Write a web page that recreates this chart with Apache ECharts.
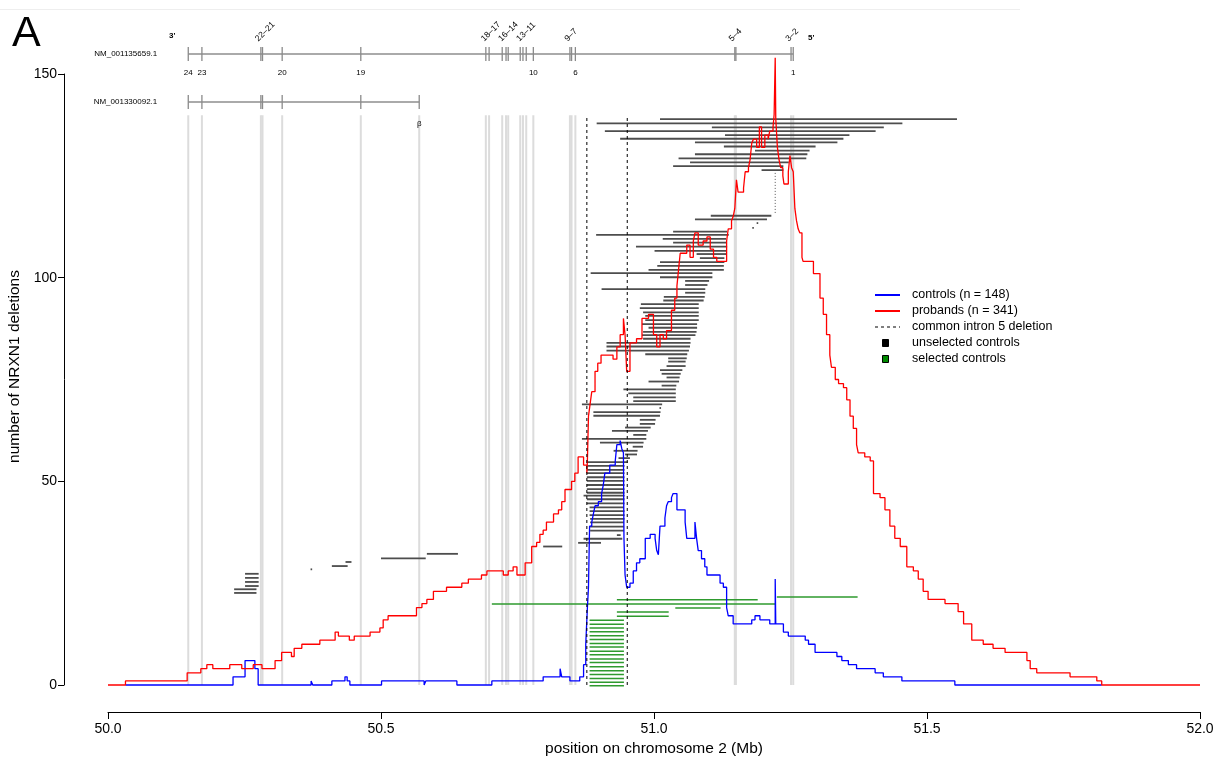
<!DOCTYPE html>
<html>
<head>
<meta charset="utf-8">
<script src="https://cdn.jsdelivr.net/npm/echarts@6/dist/echarts.min.js"></script>
<style>
html,body{margin:0;padding:0;background:#fff}
#main{width:1230px;height:762px}
</style>
</head>
<body>
<div id="main"></div>
<script>
// NRXN1 deletions, position in Mb on chr2
var FONT = '"Liberation Sans", Arial, sans-serif';

// gene track (NM_001135659.1 and NM_001330092.1)
var exonPos = [50.147, 50.172, 50.280, 50.283, 50.319, 50.463, 50.692, 50.698, 50.722, 50.729, 50.733,
    50.755, 50.760, 50.766, 50.779, 50.846, 50.849, 50.856, 51.148, 51.150, 51.251, 51.255];
var tx2Exons = [50.147, 50.172, 50.280, 50.283, 50.319, 50.463, 50.570];
var txNames = ['NM_001135659.1', 'NM_001330092.1'];
var txStart = [50.147, 50.147];
var txEnd = [51.255, 50.570];
var txY = [154.9, 143.1];
var exonNum = ['24', '23', '20', '19', '10', '6', '1'];
var exonNumX = [50.147, 50.172, 50.319, 50.463, 50.779, 50.856, 51.255];
var exonGroup = ['22–21', '18–17', '16–14', '13–11', '9–7', '5–4', '3–2'];
var exonGroupX = [50.2815, 50.695, 50.727, 50.760, 50.848, 51.149, 51.253];
var greyLines = exonPos.concat([50.570]);

// common intron 5 deletion boundaries
var intron5 = [50.877, 50.951];

// cumulative deletion counts (step, value holds from x on)
var probands = [
[50.000,0],[50.032,1],[50.145,3],[50.170,4],[50.181,5],[50.192,4],[50.223,5],[50.245,4],[50.266,5],[50.282,4],
[50.306,6],[50.318,8],[50.336,7],[50.341,9],[50.355,10],[50.388,11],[50.416,13],[50.422,12],[50.442,11],[50.451,12],
[50.480,13],[50.498,14],[50.504,16],[50.513,17],[50.565,19],[50.575,20],[50.584,21],[50.596,23],[50.620,24],[50.648,25],
[50.660,26],[50.684,27],[50.694,28],[50.724,27],[50.733,28],[50.742,29],[50.749,27],[50.764,30],[50.776,34],[50.785,35],
[50.791,37],[50.797,38],[50.803,40],[50.816,42],[50.825,43],[50.831,45],[50.837,48],[50.849,50],[50.855,52],[50.861,56],
[50.871,54],[50.877,52],[50.878,55],[50.880,66],[50.883,69],[50.886,72],[50.892,77],[50.897,79],[50.903,81],[50.925,80],
[50.932,83],[50.938,86],[50.944,90],[50.947,86],[50.950,77],[50.956,84],[50.968,85],[50.978,90],[50.990,91],[50.999,86],
[51.005,83],[51.011,86],[51.017,85],[51.023,87],[51.032,92],[51.038,95],[51.042,98],[51.045,102],[51.048,106],[51.060,108],
[51.066,105],[51.072,109],[51.075,111],[51.081,108],[51.090,109],[51.097,110],[51.103,107],[51.109,105],[51.115,104],[51.133,109],
[51.136,112],[51.142,114],[51.145,115],[51.148,117],[51.151,124],[51.154,121],[51.164,122],[51.167,126],[51.173,127],[51.176,129],
[51.179,133],[51.182,134],[51.188,132],[51.193,137],[51.197,132],[51.203,135],[51.209,134],[51.212,136],[51.218,137],[51.220,140],
[51.222,154],[51.223,139],[51.226,132],[51.229,129],[51.232,127],[51.236,125],[51.238,123],[51.246,126],[51.249,130],[51.252,127],
[51.255,126],[51.258,117],[51.261,114],[51.264,112],[51.267,111],[51.271,105],[51.273,104],[51.292,101],[51.304,95],[51.310,91],
[51.316,86],[51.322,81],[51.325,78],[51.332,75],[51.338,74],[51.347,73],[51.353,70],[51.359,66],[51.365,63],[51.371,59],
[51.374,57],[51.386,56],[51.396,55],[51.402,47],[51.414,46],[51.423,43],[51.432,39],[51.441,36],[51.451,34],[51.463,29],
[51.475,28],[51.484,26],[51.493,23],[51.502,21],[51.533,20],[51.557,18],[51.567,15],[51.582,11],[51.603,10],[51.621,9],
[51.643,8],[51.683,6],[51.689,4],[51.701,3],[51.762,2],[51.811,1],[51.820,0],[52.000,0]
];
var controls = [
[50.032,0],[50.229,2],[50.251,6],[50.269,4],[50.275,0],[50.372,1],[50.375,0],[50.410,1],[50.434,2],[50.438,1],
[50.443,0],[50.501,1],[50.579,0],[50.582,1],[50.639,0],[50.703,1],[50.797,2],[50.828,4],[50.831,2],[50.846,1],
[50.864,2],[50.871,5],[50.875,10],[50.878,19],[50.880,24],[50.882,39],[50.886,40],[50.889,42],[50.892,44],[50.898,45],
[50.904,47],[50.907,49],[50.910,52],[50.919,54],[50.929,55],[50.932,59],[50.938,60],[50.941,58],[50.944,57],[50.945,36],
[50.947,27],[50.950,24],[50.956,25],[50.962,28],[50.968,30],[50.974,31],[50.984,36],[50.993,37],[51.002,36],[51.005,33],
[51.008,32],[51.011,39],[51.020,41],[51.023,44],[51.026,45],[51.032,46],[51.035,47],[51.042,43],[51.057,40],[51.060,36],
[51.075,40],[51.078,36],[51.081,33],[51.087,31],[51.093,29],[51.097,27],[51.121,25],[51.127,24],[51.133,19],[51.136,17],
[51.145,15],[51.179,16],[51.185,17],[51.194,16],[51.212,15],[51.222,26],[51.223,15],[51.237,13],[51.246,12],[51.277,11],
[51.283,10],[51.295,8],[51.335,7],[51.344,6],[51.356,5],[51.371,4],[51.405,3],[51.420,2],[51.454,1],[51.551,0],[51.820,0]
];

// individual control deletions [start, end, row]
var unselected = [
[51.011,51.554,138.9],[50.895,51.454,137.9],[51.106,51.420,136.9],[50.910,51.405,136.0],[51.130,51.357,135.0],
[50.938,51.346,134.1],[51.075,51.335,133.2],[51.128,51.295,132.2],[51.185,51.284,131.2],[51.075,51.280,130.3],
[51.045,51.278,129.3],[51.066,51.246,128.3],[51.035,51.236,127.4],[51.197,51.236,126.4],[51.104,51.214,115.2],
[51.075,51.206,114.3],[51.188,51.190,113.4],[51.180,51.182,112.2],[51.035,51.133,111.3],[50.894,51.136,110.5],
[51.016,51.131,109.5],[51.035,51.131,108.6],[50.967,51.133,107.6],[51.001,51.131,106.6],[51.078,51.131,105.8],
[51.084,51.128,104.8],[51.011,51.128,103.8],[51.006,51.127,102.9],[50.990,51.127,101.9],[50.884,51.106,101.1],
[51.011,51.106,100.1],[51.057,51.100,99.2],[51.057,51.097,98.2],[50.904,51.093,97.2],[51.057,51.093,96.3],
[51.018,51.092,95.3],[51.017,51.090,94.4],[50.976,51.081,93.5],[50.974,51.081,92.5],[50.980,51.081,91.5],
[50.984,51.081,90.6],[50.984,51.081,89.6],[50.978,51.078,88.6],[50.990,51.078,87.7],[50.980,51.077,86.7],
[50.978,51.075,85.9],[50.980,51.066,85.0],[50.913,51.066,84.0],[50.913,51.065,83.1],[50.913,51.063,82.1],
[50.984,51.060,81.2],[51.026,51.059,80.2],[51.026,51.057,79.4],[51.023,51.057,78.3],[51.011,51.051,77.3],
[51.014,51.048,76.4],[51.023,51.046,75.5],[50.990,51.045,74.5],[51.014,51.040,73.5],[50.944,51.039,72.6],
[50.953,51.039,71.6],[50.962,51.039,70.6],[50.962,51.039,69.7],[50.868,51.014,68.9],[51.010,51.012,68.0],
[50.889,51.011,67.0],[50.889,51.010,66.1],[50.974,51.002,65.1],[50.974,51.001,64.1],[50.947,50.993,63.2],
[50.923,50.988,62.4],[50.962,50.985,61.4],[50.868,50.985,60.4],[50.901,50.980,59.5],[50.961,50.979,58.5],
[50.926,50.969,57.5],[50.947,50.968,56.6],[50.935,50.955,55.7],[50.877,50.951,54.7],[50.877,50.945,53.8],
[50.877,50.945,52.8],[50.877,50.945,52.0],[50.877,50.945,51.0],[50.877,50.945,50.1],[50.877,50.945,49.1],
[50.877,50.945,48.1],[50.877,50.945,47.2],[50.871,50.945,46.5],[50.877,50.945,45.6],[50.877,50.945,44.6],
[50.882,50.944,43.6],[50.882,50.945,42.7],[50.882,50.945,41.7],[50.883,50.945,40.8],[50.883,50.944,39.9],
[50.883,50.944,38.9],[50.883,50.944,37.9],[50.932,50.938,36.8],[50.871,50.941,35.9],[50.861,50.902,34.9],
[50.797,50.831,34.0],[50.584,50.640,32.2],[50.500,50.581,31.1],[50.435,50.445,30.2],[50.410,50.438,29.2],
[50.371,50.373,28.4],[50.251,50.275,27.3],[50.251,50.275,26.3],[50.251,50.275,25.3],[50.251,50.275,24.3],
[50.231,50.271,23.5],[50.231,50.271,22.6]
];
var unselectedDotted = [[51.222, 115.9, 126.2]];
var selected = [
[51.225,51.372,21.6],[50.932,51.189,20.9],[50.703,51.222,19.9],[51.039,51.121,18.9],[50.932,51.026,17.9],
[50.932,51.026,16.9],[50.882,50.944,15.9],[50.882,50.944,14.9],[50.882,50.944,14.0],[50.882,50.944,13.1],
[50.882,50.944,12.1],[50.882,50.944,11.2],[50.882,50.944,10.2],[50.882,50.944,9.3],[50.882,50.944,8.3],
[50.882,50.944,7.4],[50.882,50.944,6.4],[50.882,50.944,5.5],[50.882,50.944,4.5],[50.882,50.944,3.5],
[50.882,50.944,2.6],[50.882,50.944,1.6],[50.882,50.944,0.7],[50.882,50.944,-0.2]
];

var legendNames = ['controls (n = 148)', 'probands (n = 341)', 'common intron 5 deletion', 'unselected controls', 'selected controls'];

function segRender(color, width) {
    return function (params, api) {
        var a = api.coord([api.value(0), api.value(2)]);
        var b = api.coord([api.value(1), api.value(2)]);
        return {type: 'line', shape: {x1: a[0], y1: a[1], x2: b[0] + 0.5, y2: b[1]},
            style: {stroke: color, lineWidth: width}};
    };
}

function vlineRender(top, color, width, dash) {
    return function (params, api) {
        var a = api.coord([api.value(0), top]);
        var b = api.coord([api.value(0), 0]);
        return {type: 'line', shape: {x1: a[0], y1: a[1], x2: b[0], y2: b[1]},
            style: {stroke: color, lineWidth: width, lineDash: dash || null}};
    };
}

function txt(x, y, s, size, align, vAlign, rot, weight) {
    return {type: 'text', x: x, y: y, rotation: rot || 0,
        style: {text: s, fill: '#000', fontSize: size, fontFamily: FONT, fontWeight: weight || 'normal',
            align: align, verticalAlign: vAlign}};
}

function trackRender(params, api) {
    var i = params.dataIndex;
    var s = api.coord([txStart[i], txY[i]]);
    var e = api.coord([txEnd[i], txY[i]]);
    var kids = [{type: 'line', shape: {x1: s[0], y1: s[1], x2: e[0], y2: e[1]},
        style: {stroke: '#aaaaaa', lineWidth: 2}}];
    var ex = i === 0 ? exonPos : tx2Exons;
    ex.forEach(function (x) {
        var p = api.coord([x, txY[i]]);
        kids.push({type: 'line', shape: {x1: p[0], y1: p[1] - 7, x2: p[0], y2: p[1] + 7},
            style: {stroke: '#8a8a8a', lineWidth: 1.3}});
    });
    kids.push(txt(s[0] - 31, s[1], txNames[i], 8, 'right', 'middle'));
    if (i === 0) {
        exonNum.forEach(function (n, k) {
            var p = api.coord([exonNumX[k], txY[i]]);
            kids.push(txt(p[0], p[1] + 19, n, 8, 'center', 'middle'));
        });
        exonGroup.forEach(function (n, k) {
            var p = api.coord([exonGroupX[k], txY[i]]);
            kids.push(txt(p[0] - 5, p[1] - 14, n, 8.5, 'left', 'middle', Math.PI / 4));
        });
        kids.push(txt(s[0] - 16, s[1] - 18, "3'", 8, 'center', 'middle', 0, 'bold'));
        kids.push(txt(e[0] + 18, e[1] - 16, "5'", 8, 'center', 'middle', 0, 'bold'));
    } else {
        kids.push(txt(e[0], e[1] + 22, 'β', 8, 'center', 'middle'));
    }
    return {type: 'group', children: kids};
}

var chart = echarts.init(document.getElementById('main'), null, {renderer: 'canvas'});

var legendRows = [295, 311, 327, 343, 359];
var graphics = [
    {type: 'line', shape: {x1: 0, y1: 9.5, x2: 1020, y2: 9.5}, style: {stroke: '#eeeeee', lineWidth: 1}},
    {type: 'text', x: 12, y: 34, style: {text: 'A', fontSize: 43, fontFamily: FONT, fill: '#000', verticalAlign: 'middle'}},
    {type: 'line', shape: {x1: 875, y1: legendRows[0], x2: 900, y2: legendRows[0]}, style: {stroke: '#0000ff', lineWidth: 2}},
    {type: 'line', shape: {x1: 875, y1: legendRows[1], x2: 900, y2: legendRows[1]}, style: {stroke: '#ff0000', lineWidth: 2}},
    {type: 'line', shape: {x1: 875, y1: legendRows[2], x2: 900, y2: legendRows[2]}, style: {stroke: '#000', lineWidth: 1, lineDash: [3, 3]}},
    {type: 'rect', shape: {x: 882.5, y: legendRows[3] - 3.5, width: 6, height: 7}, style: {fill: '#000', stroke: '#000'}},
    {type: 'rect', shape: {x: 882.5, y: legendRows[4] - 3.5, width: 6, height: 7}, style: {fill: '#008a00', stroke: '#000'}}
];
legendNames.forEach(function (n, k) {
    graphics.push({type: 'text', x: 912, y: legendRows[k],
        style: {text: n, fontSize: 12.5, fontFamily: FONT, fill: '#000', verticalAlign: 'middle'}});
});

var option = {
    animation: false,
    backgroundColor: '#fff',
    textStyle: {fontFamily: FONT},
    grid: {left: 108, right: 30, top: 74, bottom: 77, containLabel: false, outerBoundsMode: 'none'},
    xAxis: {
        type: 'value', min: 50, max: 52, interval: 0.5, offset: 27,
        name: 'position on chromosome 2 (Mb)', nameLocation: 'middle', nameGap: 29,
        nameTextStyle: {fontSize: 15.5, color: '#000', fontFamily: FONT},
        axisLine: {show: true, onZero: false, lineStyle: {color: '#000', width: 1}},
        axisTick: {show: true, length: 7, lineStyle: {color: '#000'}},
        axisLabel: {fontSize: 14, color: '#000', margin: 10, fontFamily: FONT,
            formatter: function (v) { return v.toFixed(1); }},
        splitLine: {show: false}
    },
    yAxis: {
        type: 'value', min: 0, max: 150, interval: 50, offset: 44,
        name: 'number of NRXN1 deletions', nameLocation: 'middle', nameGap: 38,
        nameTextStyle: {fontSize: 15.5, color: '#000', fontFamily: FONT, padding: [0, 0, 0, 26]},
        axisLine: {show: true, onZero: false, lineStyle: {color: '#000', width: 1}},
        axisTick: {show: true, length: 6, lineStyle: {color: '#000'}},
        axisLabel: {fontSize: 14, color: '#000', margin: 7, fontFamily: FONT},
        splitLine: {show: false}
    },
    graphic: graphics,
    series: [
        {type: 'custom', name: 'exons', data: greyLines.map(function (x) { return [x]; }),
            encode: {x: 0}, renderItem: vlineRender(139.9, '#dcdcdc', 2), silent: true, z: 1},
        {type: 'custom', name: 'gene', data: txStart.map(function (x, i) { return [x, txY[i]]; }),
            encode: {x: 0, y: 1}, renderItem: trackRender, silent: true, z: 1},
        {type: 'custom', name: 'unselected controls', data: unselected, encode: {x: [0, 1], y: 2},
            renderItem: segRender('#4d4d4d', 1.8), silent: true, z: 2},
        {type: 'custom', name: 'unselected dotted', data: unselectedDotted, encode: {x: 0, y: [1, 2]},
            renderItem: function (params, api) {
                var a = api.coord([api.value(0), api.value(1)]), b = api.coord([api.value(0), api.value(2)]);
                return {type: 'line', shape: {x1: a[0], y1: a[1], x2: b[0], y2: b[1]},
                    style: {stroke: '#555', lineWidth: 1, lineDash: [1, 2]}};
            }, silent: true, z: 2},
        {type: 'custom', name: 'selected controls', data: selected, encode: {x: [0, 1], y: 2},
            renderItem: segRender('#2e9a2e', 1.5), silent: true, z: 2},
        {type: 'line', name: 'controls (n = 148)', data: controls, step: 'end', symbol: 'none', clip: false,
            lineStyle: {color: '#0000ff', width: 1.3}, z: 3},
        {type: 'line', name: 'probands (n = 341)', data: probands, step: 'end', symbol: 'none', clip: false,
            lineStyle: {color: '#ff0000', width: 1.3}, z: 4},
        {type: 'custom', name: 'common intron 5 deletion', data: intron5.map(function (x) { return [x]; }),
            encode: {x: 0}, renderItem: vlineRender(139.2, '#000', 1, [3, 3]), silent: true, z: 5}
    ]
};
chart.setOption(option);
</script>
</body>
</html>
